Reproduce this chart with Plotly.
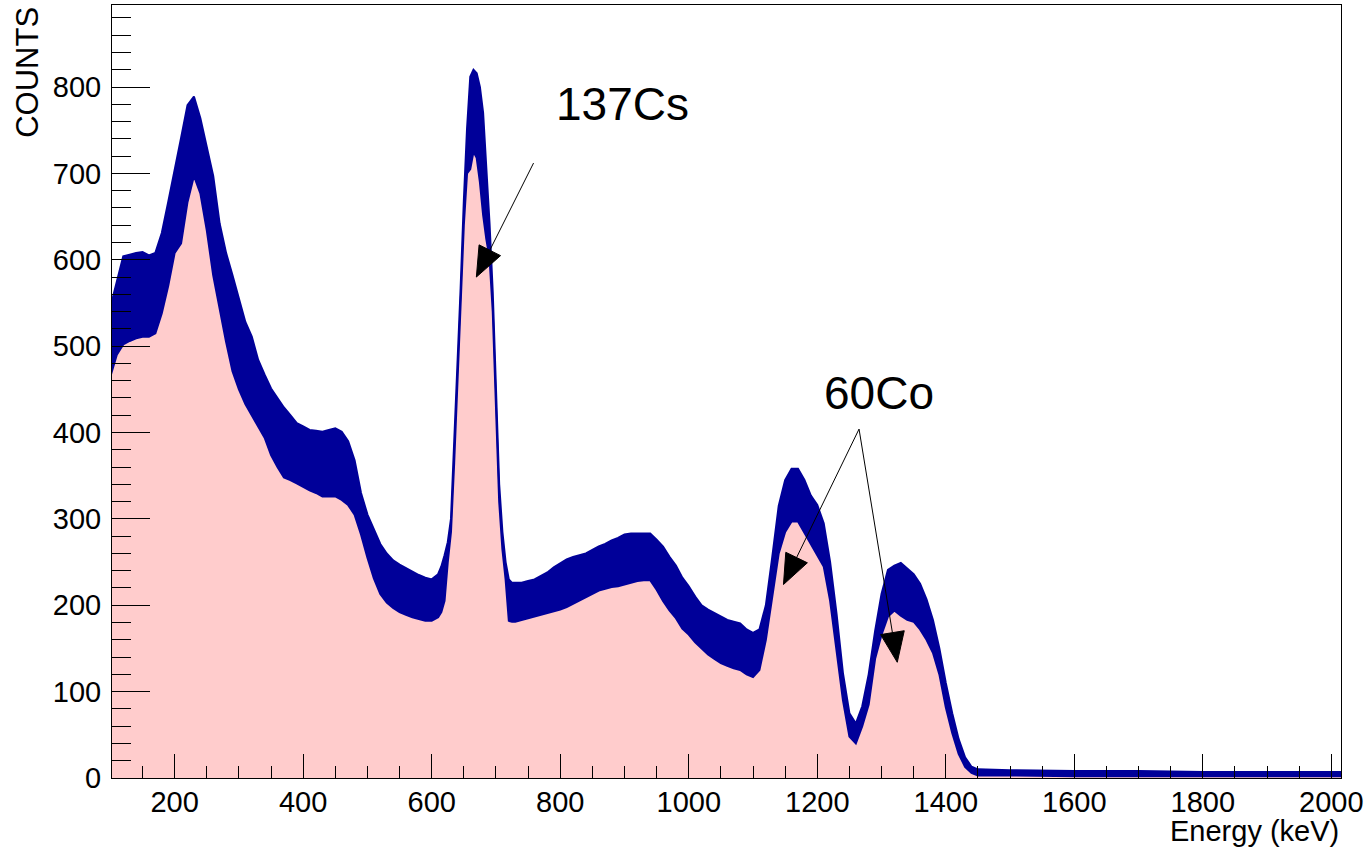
import math
import plotly.graph_objects as go

# Energy grid (keV) and band envelopes (counts)
energy = [100, 110, 120, 130, 140, 150, 160, 170, 180, 190, 200, 210, 220, 230, 240, 250, 260, 270, 280, 290,
          300, 310, 320, 330, 340, 350, 360, 370, 380, 390, 400, 410, 420, 430, 440, 450, 460, 470, 480, 490,
          500, 510, 520, 530, 540, 550, 560, 570, 580, 590, 600, 610,
          615, 620, 625, 630, 635, 640, 645, 650, 655, 660, 665, 670, 675, 680, 685, 690, 695, 700, 705, 710,
          715, 720, 725,
          730, 740, 750, 760, 770, 780, 790, 800, 810, 820, 830, 840, 850, 860, 870, 880, 890, 900, 910, 920,
          930, 940, 950, 960, 970, 980, 990, 1000, 1010, 1020, 1030, 1040, 1050, 1060, 1070, 1080, 1090, 1100,
          1110, 1120, 1130, 1140, 1150, 1160, 1170, 1180, 1190, 1200, 1210, 1220, 1230, 1240, 1250, 1260, 1270,
          1280, 1290, 1300, 1310, 1320, 1330, 1340, 1350, 1360, 1370, 1380, 1390, 1400, 1410, 1420, 1430, 1440,
          1450, 1500, 1600, 1700, 1800, 1900, 2000, 2015]

counts_upper = [545, 575, 604, 606, 608, 609, 605, 608, 631, 667, 706, 741, 779, 789, 764, 729, 697, 642, 608, 582,
                555, 528, 511, 484, 467, 451, 440, 429, 420, 411, 407, 403, 402, 401, 403, 405, 401, 390, 368, 330,
                305, 289, 271, 260, 252, 247, 243, 239, 235, 232, 230, 236,
                245, 258, 273, 300, 385, 480, 567, 668, 752, 812, 820, 816, 800, 770, 712, 642, 562, 450, 340, 285,
                250, 230, 226,
                226, 226, 228, 230, 234, 238, 244, 249, 253, 256, 258, 260, 264, 268, 271, 275, 278, 282, 283, 283,
                283, 283, 276, 268, 256, 246, 232, 222, 210, 200, 195, 191, 187, 183, 181, 179, 172, 168,
                172, 200, 256, 315, 345, 358, 358, 345, 327, 316, 295, 250, 190, 121, 75, 63, 83,
                120, 170, 213, 241, 246, 249, 242, 236, 225, 207, 183, 150, 110, 75, 45, 24, 13,
                10, 9, 8, 8, 7, 7, 7, 7]

counts_lower = [465, 490, 502, 506, 509, 511, 511, 515, 538, 570, 608, 619, 667, 697, 677, 634, 582, 543, 505, 471,
                450, 433, 420, 408, 394, 374, 360, 348, 345, 341, 337, 333, 330, 326, 326, 326, 322, 316, 305, 282,
                255, 231, 213, 203, 197, 192, 189, 186, 184, 182, 182, 186,
                192, 205, 250, 285, 365, 460, 545, 640, 700, 705, 725, 718, 690, 652, 624, 602, 540, 430, 320, 265,
                230, 182, 181,
                181, 183, 185, 187, 189, 191, 193, 195, 198, 202, 206, 210, 213, 217, 219, 221, 222, 224, 226, 228,
                229, 229, 218, 205, 194, 185, 173, 166, 157, 150, 143, 138, 133, 130, 127, 125, 120, 117,
                125, 160, 210, 260, 285, 297, 297, 284, 272, 258, 245, 205, 150, 90, 48, 40, 60,
                85, 138, 166, 187, 194, 188, 183, 181, 172, 160, 145, 120, 82, 52, 28, 13, 6,
                3, 3, 2, 2, 2, 2, 2, 2]

x_ticks = [200, 400, 600, 800, 1000, 1200, 1400, 1600, 1800, 2000]
y_ticks = [0, 100, 200, 300, 400, 500, 600, 700, 800]

cs_label = "137Cs"
co_label = "60Co"

BLUE = "#000099"
PINK = "#FFCCCC"
FONT = "Liberation Sans, Arial, Helvetica, sans-serif"

W, H = 1369, 847
ML, MR, MT, MB = 112, 28, 5, 69
X_RANGE = [102.5, 2015]
Y_RANGE = [0, 895]
px_per_kev = (W - ML - MR) / (X_RANGE[1] - X_RANGE[0])
px_per_count = (H - MT - MB) / (Y_RANGE[1] - Y_RANGE[0])

fig = go.Figure()
fig.add_trace(go.Scatter(x=energy, y=counts_lower, mode="lines", line=dict(width=0, color=PINK),
                         fill="tozeroy", fillcolor=PINK, hoverinfo="skip", showlegend=False))
fig.add_trace(go.Scatter(x=energy, y=counts_upper, mode="lines", line=dict(width=2, color=BLUE),
                         hoverinfo="skip", showlegend=False))
fig.add_trace(go.Scatter(x=energy, y=counts_lower, mode="lines", line=dict(width=2, color=BLUE),
                         fill="tonexty", fillcolor=BLUE, hoverinfo="skip", showlegend=False))

axis_common = dict(showline=True, mirror=True, linecolor="black", linewidth=1, showgrid=False, zeroline=False,
                   ticks="inside", tickcolor="black", tickwidth=1,
                   tickfont=dict(family=FONT, size=29, color="black"))

fig.update_xaxes(range=X_RANGE, tickvals=x_ticks, ticklen=24, ticklabelstandoff=-2,
                 minor=dict(ticks="inside", ticklen=12, dtick=50, tick0=0, tickcolor="black", tickwidth=1,
                            showgrid=False),
                 **axis_common)
fig.update_yaxes(range=Y_RANGE, tickvals=y_ticks, ticklen=38, ticklabelstandoff=4,
                 minor=dict(ticks="inside", ticklen=19, dtick=20, tick0=0, tickcolor="black", tickwidth=1,
                            showgrid=False),
                 **axis_common)

annots = [
    dict(text="COUNTS", xref="paper", yref="paper", x=-0.0689, y=1.0, xanchor="center", yanchor="top",
         textangle=-90, showarrow=False, font=dict(family=FONT, size=31, color="black")),
    dict(text="Energy (keV)", xref="paper", yref="paper", x=1.0, y=-0.069, xanchor="right", yanchor="middle",
         showarrow=False, font=dict(family=FONT, size=29, color="black")),
    dict(text=cs_label, xref="x", yref="y", x=791, y=780, xanchor="left", yanchor="middle",
         showarrow=False, font=dict(family=FONT, size=46, color="black")),
    dict(text=co_label, xref="x", yref="y", x=1207, y=446, xanchor="left", yanchor="middle",
         showarrow=False, font=dict(family=FONT, size=46, color="black")),
]

# arrows: (tip energy, tip counts, tail energy, tail counts)
arrows = [
    (669.5, 580, 758.5, 712),
    (1147.4, 224, 1265, 404),
    (1324.5, 134, 1265, 404),
]
shapes = []
HEAD_LEN, HEAD_W = 30, 24
for tx, ty, sx, sy in arrows:
    dx = (tx - sx) * px_per_kev
    dy = (ty - sy) * px_per_count
    L = math.hypot(dx, dy)
    ux, uy = dx / L, dy / L
    nx, ny = -uy, ux
    bx, by = -ux * HEAD_LEN, -uy * HEAD_LEN
    p1 = (tx + (bx + nx * HEAD_W / 2) / px_per_kev, ty + (by + ny * HEAD_W / 2) / px_per_count)
    p2 = (tx + (bx - nx * HEAD_W / 2) / px_per_kev, ty + (by - ny * HEAD_W / 2) / px_per_count)
    bc = (tx + bx / px_per_kev, ty + by / px_per_count)
    shapes.append(dict(type="line", xref="x", yref="y", x0=sx, y0=sy, x1=bc[0], y1=bc[1],
                       line=dict(color="black", width=1)))
    shapes.append(dict(type="path", xref="x", yref="y",
                       path=f"M {tx},{ty} L {p1[0]},{p1[1]} L {p2[0]},{p2[1]} Z",
                       fillcolor="black", line=dict(color="black", width=1)))

fig.update_layout(width=W, height=H, margin=dict(l=ML, r=MR, t=MT, b=MB),
                  paper_bgcolor="white", plot_bgcolor="white", annotations=annots, shapes=shapes,
                  showlegend=False)

fig.write_html("out.html", config={"displayModeBar": False},
               post_script="document.body.style.margin='0';")
